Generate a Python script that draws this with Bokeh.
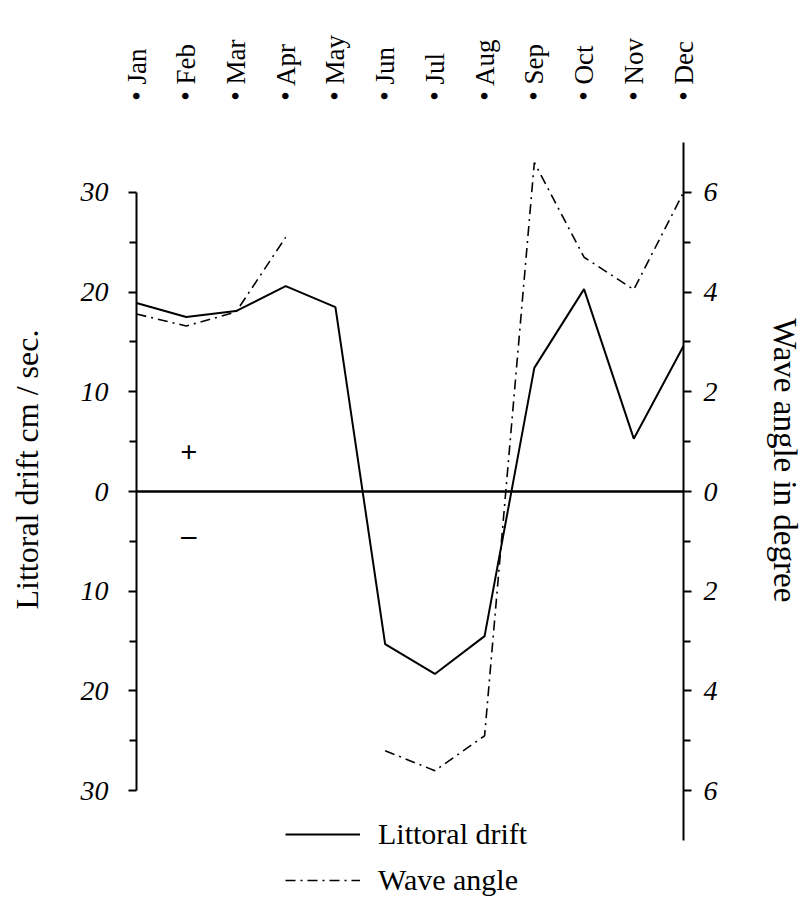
import math
from bokeh.plotting import figure
from bokeh.models import (Range1d, LinearAxis, FixedTicker, Label, Legend, LegendItem)
from bokeh.embed import file_html
from bokeh.resources import INLINE

months = ["Jan", "Feb", "Mar", "Apr", "May", "Jun", "Jul", "Aug", "Sep", "Oct", "Nov", "Dec"]
littoral_drift = [18.9, 17.5, 18.1, 20.6, 18.5, -15.3, -18.3, -14.5, 12.4, 20.3, 5.3, 14.6]
wave_angle = [3.56, 3.32, 3.6, 5.1, float("nan"), -5.2, -5.6, -4.9, 6.6, 4.7, 4.05, 6.0]

drift_ticks = [-30, -20, -10, 0, 10, 20, 30]
drift_minor = [-25, -15, -5, 5, 15, 25]
angle_ticks = [-6, -4, -2, 0, 2, 4, 6]
angle_minor = [-5, -3, -1, 1, 3, 5]

x = list(range(len(months)))

SERIF = "Liberation Serif"
INK = "black"

# The plotting frame covers the canvas; axes are pinned at the first and last month
p = figure(width=803, height=900, output_backend="svg", toolbar_location=None,
           x_range=Range1d(-2.735, 13.413), y_range=Range1d(-41.02, 46.24),
           x_axis_location=None, y_axis_location=None,
           min_border_left=0, min_border_right=0, min_border_top=30, min_border_bottom=0)
p.outline_line_color = None
p.grid.visible = False
p.background_fill_color = "white"
p.border_fill_color = "white"
p.extra_y_ranges = {"wave": Range1d(-8.204, 9.248)}


def style_axis(ax):
    ax.major_label_text_font = SERIF
    ax.major_label_text_font_style = "italic"
    ax.major_label_text_font_size = "28px"
    ax.major_label_text_color = INK
    ax.major_tick_out = 8
    ax.major_tick_in = 0
    ax.minor_tick_out = 7
    ax.minor_tick_in = 0
    ax.axis_line_width = 2
    ax.axis_line_color = INK
    ax.major_tick_line_width = 2
    ax.minor_tick_line_width = 2
    ax.major_tick_line_color = INK
    ax.minor_tick_line_color = INK


def title_axis(title, size, standoff, bounds, loc, side, range_name="default"):
    # an axis with no line or ticks that only carries the axis title
    t = LinearAxis(y_range_name=range_name, ticker=FixedTicker(ticks=[], minor_ticks=[]),
                   bounds=bounds, fixed_location=loc)
    t.axis_label = title
    t.axis_label_text_font = SERIF
    t.axis_label_text_font_style = "normal"
    t.axis_label_text_font_size = size
    t.axis_label_text_color = INK
    t.axis_label_standoff = standoff
    t.axis_line_color = None
    t.major_tick_line_color = None
    t.minor_tick_line_color = None
    t.major_tick_out = 0
    t.minor_tick_out = 0
    p.add_layout(t, side)


# left axis (littoral drift)
la = LinearAxis(ticker=FixedTicker(ticks=drift_ticks, minor_ticks=drift_minor), bounds=(-30, 30),
                fixed_location=x[0])
la.major_label_overrides = {t: str(abs(t)) for t in drift_ticks}
style_axis(la)
la.major_label_standoff = 20
p.add_layout(la, "left")
title_axis("Littoral drift  cm / sec.", "32px", 92, (-27.4, 32.6), x[0], "left")

# right axis (wave angle)
ra = LinearAxis(y_range_name="wave", ticker=FixedTicker(ticks=angle_ticks, minor_ticks=angle_minor),
                bounds=(-7, 7), fixed_location=x[-1])
ra.major_label_overrides = {t: str(abs(t)) for t in angle_ticks}
style_axis(ra)
ra.major_label_standoff = 12
p.add_layout(ra, "right")
title_axis("Wave angle  in  degree", "33px", 83, (-6.54, 7.46), x[-1], "right", "wave")

# month labels along the top
ta = LinearAxis(ticker=FixedTicker(ticks=x, minor_ticks=[]), fixed_location=39.2)
ta.major_label_overrides = {i: "\u2022 " + m for i, m in enumerate(months)}
ta.major_label_orientation = "vertical"
ta.major_label_text_font = SERIF
ta.major_label_text_font_size = "27px"
ta.major_label_text_color = INK
ta.major_label_standoff = 0
ta.major_tick_out = 0
ta.major_tick_in = 0
ta.axis_line_color = None
ta.major_tick_line_color = None
ta.minor_tick_line_color = None
p.add_layout(ta, "above")

# zero line between the two axes
p.line([x[0], x[-1]], [0, 0], line_color=INK, line_width=2.5)

r1 = p.line(x, littoral_drift, line_color=INK, line_width=2)
r2 = p.line(x, wave_angle, y_range_name="wave", line_color=INK, line_width=1.6, line_dash="10 5 2 5")

p.add_layout(Label(x=1.05, y=3.9, text="+", text_font=SERIF, text_font_size="30px", text_color=INK,
                   text_font_style="bold", text_align="center", text_baseline="middle"))
p.add_layout(Label(x=1.05, y=-4.3, text="\u2013", text_font=SERIF, text_font_size="30px", text_color=INK,
                   text_font_style="bold", text_align="center", text_baseline="middle"))

legend = Legend(items=[LegendItem(label="Littoral drift", renderers=[r1]),
                       LegendItem(label="Wave angle", renderers=[r2])],
                location=(285, 3), orientation="vertical")
legend.border_line_color = None
legend.background_fill_alpha = 0
legend.padding = 0
legend.margin = 0
legend.spacing = 12
legend.glyph_width = 75
legend.glyph_height = 30
legend.label_height = 30
legend.label_standoff = 18
legend.label_text_font = SERIF
legend.label_text_font_size = "30px"
legend.label_text_color = INK
p.add_layout(legend, "center")

open("out.html", "w").write(file_html(p, INLINE))
